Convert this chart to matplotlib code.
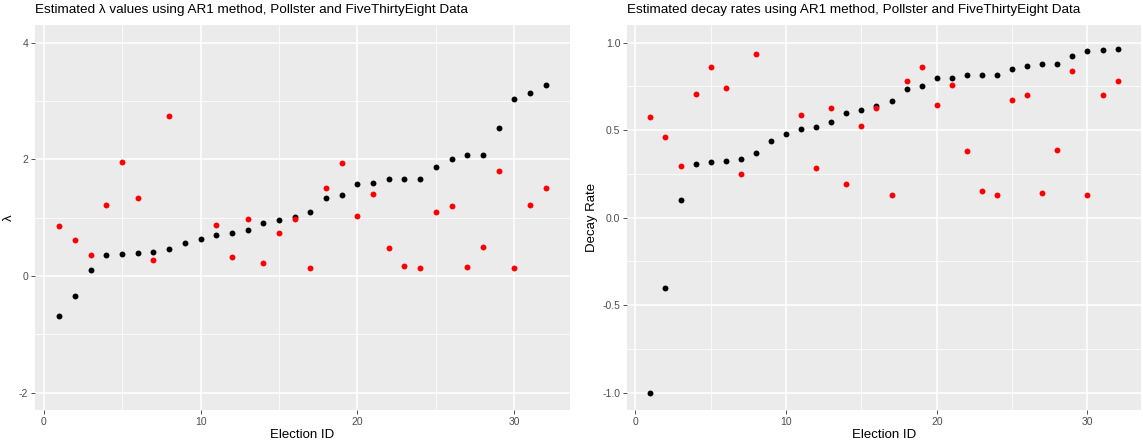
import numpy as np
import matplotlib
matplotlib.use("Agg")
import matplotlib.pyplot as plt
from matplotlib.ticker import MultipleLocator

plt.rcParams['font.family'] = ['Liberation Sans', 'DejaVu Sans']

election_id = np.arange(1, 33)

# lambda estimates
lam_black = [-0.69, -0.34, 0.10, 0.365, 0.38, 0.39, 0.41, 0.46, 0.57, 0.64,
             0.70, 0.73, 0.78, 0.91, 0.95, 1.01, 1.09, 1.33, 1.39, 1.58,
             1.60, 1.66, 1.66, 1.66, 1.87, 2.00, 2.07, 2.07, 2.54, 3.04,
             3.13, 3.28]
lam_red = [0.85, 0.62, 0.35, 1.22, 1.96, 1.34, 0.28, 2.74, np.nan, np.nan,
           0.88, 0.33, 0.98, 0.22, 0.73, 0.98, 0.14, 1.50, 1.94, 1.03,
           1.41, 0.48, 0.165, 0.14, 1.10, 1.20, 0.15, 0.49, 1.79, 0.14,
           1.21, 1.50]

# decay rates
dec_black = [-1.00, -0.403, 0.10, 0.306, 0.317, 0.323, 0.336, 0.369, 0.435, 0.477,
             0.504, 0.519, 0.544, 0.597, 0.616, 0.637, 0.665, 0.736, 0.753, 0.797,
             0.80, 0.812, 0.812, 0.814, 0.848, 0.867, 0.876, 0.876, 0.924, 0.954,
             0.958, 0.964]
dec_red = [0.574, 0.462, 0.295, 0.705, 0.861, 0.741, 0.247, 0.937, np.nan, np.nan,
           0.586, 0.283, 0.627, 0.194, 0.521, 0.625, 0.131, 0.779, 0.859, 0.643,
           0.759, 0.382, 0.154, 0.127, 0.669, 0.700, 0.139, 0.388, 0.836, 0.131,
           0.702, 0.779]

W, H = 1143, 440
fig = plt.figure(figsize=(W / 100, H / 100), dpi=100)
fig.patch.set_facecolor('white')


def gg_axes(rect, ylim, ymaj, ymin_step, ylabel, title, fmt):
    ax = fig.add_axes(rect)
    ax.set_facecolor('#EBEBEB')
    for s in ax.spines.values():
        s.set_visible(False)
    xr = 31 * 0.05
    ax.set_xlim(1 - xr, 32 + xr)
    yr = (ylim[1] - ylim[0]) * 0.05
    ax.set_ylim(ylim[0] - yr, ylim[1] + yr)
    ax.xaxis.set_major_locator(MultipleLocator(10))
    ax.xaxis.set_minor_locator(MultipleLocator(5))
    ax.yaxis.set_major_locator(MultipleLocator(ymaj))
    ax.yaxis.set_minor_locator(MultipleLocator(ymin_step))
    ax.grid(which='major', color='white', linewidth=1.1)
    ax.grid(which='minor', color='white', linewidth=0.55)
    ax.set_axisbelow(True)
    ax.tick_params(which='major', length=2.8, width=0.6, color='#333333',
                   labelsize=7.5, labelcolor='#4D4D4D', pad=2)
    ax.tick_params(which='minor', length=0)
    ax.yaxis.set_major_formatter(plt.FuncFormatter(lambda v, p: fmt.format(v)))
    ax.set_xlabel('Election ID', fontsize=9.5, labelpad=2)
    ax.set_ylabel(ylabel, fontsize=9.5, labelpad=3)
    ax.set_title(title, loc='left', fontsize=9.7, pad=9, x=0)
    return ax


ax1 = gg_axes([35 / W, 30 / H, 535 / W, 385 / H], (-2, 4), 2, 1, 'λ',
              'Estimated λ values using AR1 method, Pollster and FiveThirtyEight Data', '{:.0f}')
ax1.scatter(election_id, lam_black, s=18, color='black', linewidths=0, zorder=3)
ax1.scatter(election_id, lam_red, s=18, color='red', linewidths=0, zorder=3)

ax2 = gg_axes([627 / W, 30 / H, 514 / W, 385 / H], (-1, 1), 0.5, 0.25, 'Decay Rate',
              'Estimated decay rates using AR1 method, Pollster and FiveThirtyEight Data', '{:.1f}')
ax2.scatter(election_id, dec_black, s=18, color='black', linewidths=0, zorder=3)
ax2.scatter(election_id, dec_red, s=18, color='red', linewidths=0, zorder=3)

fig.savefig('out.png', dpi=100)
